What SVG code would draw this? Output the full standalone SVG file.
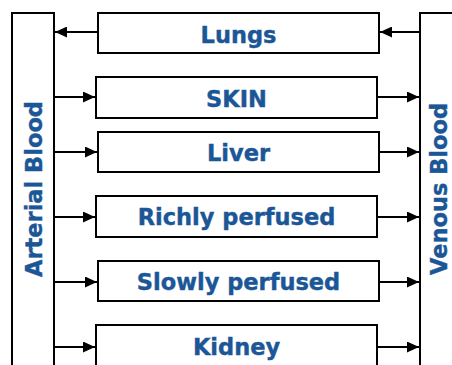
<svg xmlns="http://www.w3.org/2000/svg" width="452" height="365" viewBox="0 0 452 365">
<style>
.box{fill:#fff;stroke:#000;stroke-width:2}
.lbl{font-family:"DejaVu Sans",Verdana,sans-serif;font-weight:bold;font-size:22.5px;fill:#1b5797;stroke:#1b5797;stroke-width:0.4;text-anchor:middle}
.c{stroke:#000;stroke-width:2;fill:none;marker-end:url(#ah)}
</style>
<defs>
<marker id="ah" markerUnits="userSpaceOnUse" markerWidth="13" markerHeight="11" refX="12" refY="5.5" orient="auto">
<path d="M0,0 L12,5.5 L0,11 Z" fill="#000"/>
</marker>
</defs>
<g id="arterial">
<rect class="box" x="12" y="13" width="42" height="360"/>
<text class="lbl" transform="translate(41.5,189) rotate(-90)">Arterial Blood</text>
</g>
<g id="venous">
<rect class="box" x="420" y="13" width="40" height="360"/>
<text class="lbl" transform="translate(447,189) rotate(-90)">Venous Blood</text>
</g>
<g id="lungs">
<rect class="box" x="98" y="13" width="281" height="40"/>
<text class="lbl" x="238.5" y="42.5">Lungs</text>
</g>
<g id="skin">
<rect class="box" x="96" y="77" width="281" height="41"/>
<text class="lbl" x="236.5" y="106.5">SKIN</text>
</g>
<g id="liver">
<rect class="box" x="98" y="132" width="281" height="40"/>
<text class="lbl" x="238.5" y="161">Liver</text>
</g>
<g id="richly">
<rect class="box" x="96" y="196" width="281" height="41"/>
<text class="lbl" x="236.5" y="225">Richly perfused</text>
</g>
<g id="slowly">
<rect class="box" x="98" y="261" width="281" height="40"/>
<text class="lbl" x="238.5" y="289.5">Slowly perfused</text>
</g>
<g id="kidney">
<rect class="box" x="96" y="325" width="281" height="41"/>
<text class="lbl" x="236.5" y="354.5">Kidney</text>
</g>
<g id="connectors">
<line class="c" x1="420" y1="32" x2="380" y2="32"/>
<line class="c" x1="98" y1="32" x2="55" y2="32"/>
<line class="c" x1="54" y1="97" x2="95" y2="97"/>
<line class="c" x1="377" y1="97" x2="419" y2="97"/>
<line class="c" x1="54" y1="152" x2="97" y2="152"/>
<line class="c" x1="379" y1="152" x2="419" y2="152"/>
<line class="c" x1="54" y1="217" x2="95" y2="217"/>
<line class="c" x1="377" y1="217" x2="419" y2="217"/>
<line class="c" x1="54" y1="282" x2="97" y2="282"/>
<line class="c" x1="379" y1="282" x2="419" y2="282"/>
<line class="c" x1="54" y1="347" x2="95" y2="347"/>
<line class="c" x1="377" y1="347" x2="419" y2="347"/>
</g>
</svg>
